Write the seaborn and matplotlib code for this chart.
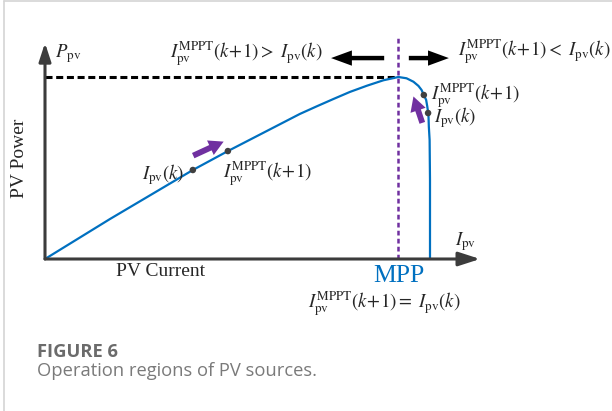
import matplotlib
matplotlib.use("Agg")
import matplotlib.pyplot as plt
from matplotlib.lines import Line2D
import seaborn as sns
import numpy as np

# PV power-current curve (current normalised to I_sc, power to P_mpp)
current = [0.000, 0.169, 0.384, 0.475, 0.662, 0.706, 0.749, 0.792, 0.836, 0.879,
           0.918, 0.939, 0.957, 0.970, 0.978, 0.984, 0.990, 0.993, 0.996, 0.997,
           0.999, 1.000, 1.000]
power = [0.000, 0.220, 0.489, 0.593, 0.797, 0.839, 0.879, 0.918, 0.952, 0.982,
         1.000, 0.993, 0.974, 0.951, 0.929, 0.901, 0.874, 0.837, 0.791, 0.727,
         0.654, 0.434, 0.000]

# operating points (left region, right region)
pt_current = [0.384, 0.475, 0.984, 0.995]
pt_power = [0.489, 0.593, 0.901, 0.802]

i_mpp = 0.918
p_mpp = 1.0

BLUE = "#0070C0"
PURPLE = "#7030A0"
AXC = "#3c3c3c"

sns.set_style("white")
plt.rcParams["font.family"] = ["Liberation Serif", "DejaVu Serif"]
plt.rcParams["mathtext.fontset"] = "stix"

fig = plt.figure(figsize=(6.12, 4.11), dpi=100)
ax = fig.add_axes([45/612, (411-259)/411, 385/612, 182/411])
ax.set_xlim(0, 1)
ax.set_ylim(0, 1)
ax.axis("off")

# frame of the page
fig.add_artist(Line2D([4/612, 4/612], [0, 1 - 1/411], color="#d4d4d4", lw=1.2))
fig.add_artist(Line2D([4/612, 1], [1 - 1/411, 1 - 1/411], color="#d4d4d4", lw=1.2))

# axes with arrow heads
ax.annotate("", xy=(1.130, 0), xytext=(0, 0), annotation_clip=False,
            arrowprops=dict(arrowstyle="-|>,head_length=1.3,head_width=0.42",
                            mutation_scale=10, lw=2.2, color=AXC,
                            shrinkA=0, shrinkB=0))
ax.annotate("", xy=(0, 1.187), xytext=(0, 0), annotation_clip=False,
            arrowprops=dict(arrowstyle="-|>,head_length=1.1,head_width=0.36",
                            mutation_scale=10, lw=2.2, color=AXC,
                            shrinkA=0, shrinkB=0))

# MPP guide lines
ax.plot([0, i_mpp], [p_mpp, p_mpp], color="black", lw=2.2,
        ls=(0, (2.3, 1.2)), clip_on=False, dash_capstyle="butt")
ax.plot([i_mpp, i_mpp], [0, 1.231], color=PURPLE, lw=1.8,
        ls=(0, (1.9, 1.3)), clip_on=False)

sns.lineplot(x=current, y=power, sort=False, estimator=None, color=BLUE,
             lw=1.6, ax=ax, clip_on=False)
sns.scatterplot(x=pt_current, y=pt_power, color="#404040", s=22,
                edgecolor="none", ax=ax, zorder=5, clip_on=False)

# purple movement arrows
for tail, tip in [((0.385, 0.568), (0.464, 0.645)), ((0.980, 0.748), (0.957, 0.893))]:
    ax.annotate("", xy=tip, xytext=tail, annotation_clip=False,
                arrowprops=dict(arrowstyle="simple,head_length=1.05,head_width=1.15,tail_width=0.42",
                                mutation_scale=10, lw=0, color=PURPLE,
                                shrinkA=0, shrinkB=0))

# black direction arrows
for tail, tip in [(0.881, 0.743), (0.945, 1.049)]:
    ax.annotate("", xy=(tip, 1.104), xytext=(tail, 1.104), annotation_clip=False,
                arrowprops=dict(arrowstyle="simple,head_length=1.5,head_width=1.1,tail_width=0.32",
                                mutation_scale=10, lw=0, color="black",
                                shrinkA=0, shrinkB=0))

fs = 13.5
mppt = r"$I_{\mathrm{pv}}^{\mathrm{MPPT}}(k\!+\!1)$"
ipv = r"$I_{\mathrm{pv}}(k)$"

ax.text(0.026, 1.110, r"$P_{\mathrm{pv}}$", fontsize=fs, va="baseline", ha="left")
ax.text(1.065, 0.077, r"$I_{\mathrm{pv}}$", fontsize=fs, va="baseline", ha="left")
ax.text(-0.065, 0.555, "PV Power", fontsize=14, rotation=90, ha="center", va="center")
ax.text(0.299, -0.071, "PV Current", fontsize=14, ha="center", va="center")
ax.text(i_mpp, -0.093, "MPP", fontsize=18.5, color=BLUE, ha="center", va="center")

ax.text(0.522, 1.104, r"$I_{\mathrm{pv}}^{\mathrm{MPPT}}(k\!+\!1) >\ I_{\mathrm{pv}}(k)$",
        fontsize=fs, ha="center", va="baseline")
ax.text(1.073, 1.115, r"$I_{\mathrm{pv}}^{\mathrm{MPPT}}(k\!+\!1) <\ I_{\mathrm{pv}}(k)$",
        fontsize=fs, ha="left", va="baseline")
ax.text(0.881, -0.269, r"$I_{\mathrm{pv}}^{\mathrm{MPPT}}(k\!+\!1) =\ I_{\mathrm{pv}}(k)$",
        fontsize=fs, ha="center", va="baseline")

ax.text(0.362, 0.440, ipv, fontsize=fs, ha="right", va="baseline")
ax.text(0.462, 0.445, mppt, fontsize=fs, ha="left", va="baseline")
ax.text(1.003, 0.878, mppt, fontsize=fs, ha="left", va="baseline")
ax.text(1.010, 0.750, ipv, fontsize=fs, ha="left", va="baseline")

# caption
fig.text(37/612, 1 - 357/411, "FIGURE 6", fontsize=13.2, fontweight="bold",
         color="#6b6b6b", family=["Open Sans", "DejaVu Sans"], va="baseline")
fig.text(37/612, 1 - 376/411, "Operation regions of PV sources.", fontsize=13.2,
         color="#7a7a7a", family=["Open Sans", "DejaVu Sans"], va="baseline")

fig.savefig("out.png", dpi=100)
